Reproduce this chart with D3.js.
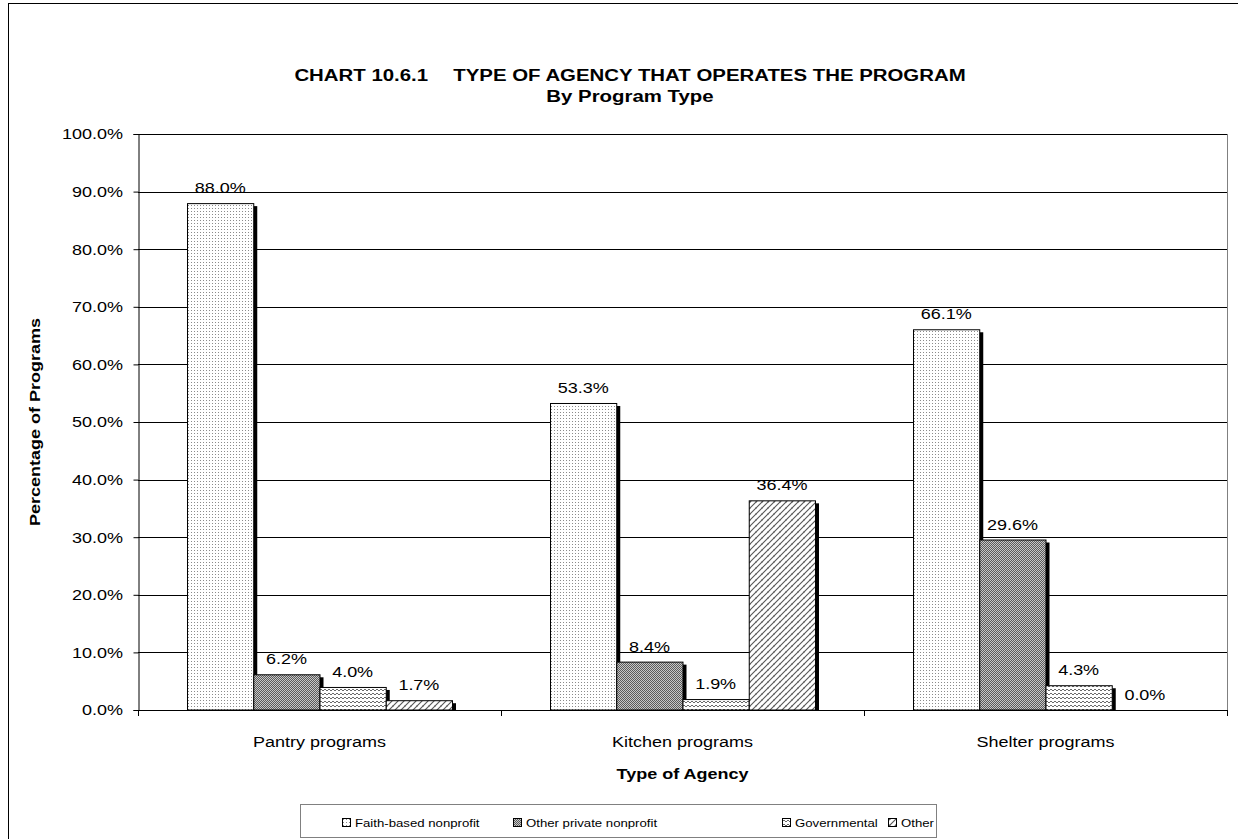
<!DOCTYPE html>
<html>
<head>
<meta charset="utf-8">
<script src="https://cdn.jsdelivr.net/npm/d3@7"></script>
<style>
  html, body { margin: 0; padding: 0; background: #fff; }
  svg { display: block; font-family: "Liberation Sans", Arial, sans-serif; }
</style>
</head>
<body>
<svg id="chart" width="1238" height="839"></svg>
<script>
// Program types along the x axis
const categories = ["Pantry programs", "Kitchen programs", "Shelter programs"];
// Agency types (one bar each per program type)
const seriesNames = ["Faith-based nonprofit", "Other private nonprofit", "Governmental", "Other"];
// Share of programs (percent) by agency type
const faithBased   = [88.0, 53.3, 66.1];
const otherPrivate = [6.2, 8.4, 29.6];
const governmental = [4.0, 1.9, 4.3];
const otherAgency  = [1.7, 36.4, 0.0];
// Y axis ticks (percent)
const yTicks = [0, 10, 20, 30, 40, 50, 60, 70, 80, 90, 100];

const seriesValues = [faithBased, otherPrivate, governmental, otherAgency];
const patternIds = ["pat-faith", "pat-private", "pat-gov", "pat-other"];

const W = 1238, H = 839;
const plot = { left: 138, right: 1227, top: 134, bottom: 710 };
const SX = 1.2; // horizontal stretch of the lettering

const svg = d3.select("#chart");
svg.append("rect").attr("width", W).attr("height", H).attr("fill", "#fff");

// text helper: positioned via transform so the glyphs can be widened
function label(parent, x, y, str, size, opts = {}) {
  const rot = opts.rotate ? ` rotate(${opts.rotate})` : "";
  return parent.append("text")
    .attr("transform", `translate(${x},${y})${rot} scale(${SX},1)`)
    .attr("text-anchor", opts.anchor || "middle")
    .attr("font-size", size)
    .attr("font-weight", opts.bold ? "bold" : "normal")
    .attr("fill", "#000")
    .text(str);
}

// ---- fill patterns ----
const defs = svg.append("defs");

// fine dots
const p1 = defs.append("pattern").attr("id", "pat-faith").attr("patternUnits", "userSpaceOnUse")
  .attr("width", 3).attr("height", 3);
p1.append("rect").attr("width", 3).attr("height", 3).attr("fill", "#fff");
p1.append("rect").attr("x", 1).attr("y", 1).attr("width", 1).attr("height", 1).attr("fill", "#8a8a8a");

// dense checker
const p2 = defs.append("pattern").attr("id", "pat-private").attr("patternUnits", "userSpaceOnUse")
  .attr("width", 2).attr("height", 2);
p2.append("rect").attr("width", 2).attr("height", 2).attr("fill", "#c8c8c8");
p2.append("rect").attr("x", 0).attr("y", 0).attr("width", 1).attr("height", 1).attr("fill", "#5a5a5a");
p2.append("rect").attr("x", 1).attr("y", 1).attr("width", 1).attr("height", 1).attr("fill", "#5a5a5a");

// small zig-zag waves
const p3 = defs.append("pattern").attr("id", "pat-gov").attr("patternUnits", "userSpaceOnUse")
  .attr("width", 4).attr("height", 4);
p3.append("rect").attr("width", 4).attr("height", 4).attr("fill", "#fff");
p3.append("path").attr("d", "M0,3 L2,1 L4,3").attr("fill", "none").attr("stroke", "#6a6a6a").attr("stroke-width", 1);

// diagonal hatching
const p4 = defs.append("pattern").attr("id", "pat-other").attr("patternUnits", "userSpaceOnUse")
  .attr("width", 6).attr("height", 6);
p4.append("rect").attr("width", 6).attr("height", 6).attr("fill", "#fff");
p4.append("path").attr("d", "M-1,7 L7,-1 M-1,1 L1,-1 M5,7 L7,5").attr("stroke", "#555").attr("stroke-width", 1.1);
p4.append("path").attr("d", "M1,3 L3,5").attr("stroke", "#999").attr("stroke-width", 0.8);

// ---- outer frame ----
svg.append("rect").attr("x", 8.5).attr("y", 3.5).attr("width", 1300).attr("height", 1000)
  .attr("fill", "none").attr("stroke", "#000").attr("stroke-width", 1);

// ---- scales ----
const x0 = d3.scaleBand().domain(categories).range([plot.left, plot.right])
  .paddingInner(0.27).paddingOuter(0.135);
const x1 = d3.scaleBand().domain(seriesNames).range([0, x0.bandwidth()]);
const y = d3.scaleLinear().domain([0, 100]).range([plot.bottom, plot.top]);

// ---- gridlines ----
svg.append("g").selectAll("line").data(yTicks.filter(t => t > 0)).join("line")
  .attr("x1", plot.left).attr("x2", plot.right)
  .attr("y1", d => Math.round(y(d)) + 0.5).attr("y2", d => Math.round(y(d)) + 0.5)
  .attr("stroke", "#000").attr("stroke-width", 1);

// right edge of plot area
svg.append("line").attr("x1", plot.right + 0.5).attr("x2", plot.right + 0.5)
  .attr("y1", plot.top).attr("y2", plot.bottom).attr("stroke", "#808080");

// ---- bars ----
const groups = svg.append("g").selectAll("g").data(categories).join("g")
  .attr("transform", c => `translate(${x0(c)},0)`);

groups.each(function (c, ci) {
  const g = d3.select(this);
  seriesNames.forEach((s, si) => {
    const v = seriesValues[si][ci];
    const bx = x1(s), bw = x1.bandwidth();
    const top = y(v), h = y(0) - y(v);
    if (h > 3) {
      g.append("rect").attr("x", bx + 1).attr("y", top + 3)
        .attr("width", bw + 3).attr("height", h - 3).attr("fill", "#000");
    }
    if (h > 0) {
      g.append("rect").attr("x", bx + 0.5).attr("y", top + 0.5)
        .attr("width", bw).attr("height", Math.max(0, h - 0.5))
        .attr("fill", `url(#${patternIds[si]})`).attr("stroke", "#000").attr("stroke-width", 1);
    }
    label(g, bx + bw / 2, top - 10, d3.format(".1f")(v) + "%", 15);
  });
});

// ---- axes ----
const yAxis = d3.axisLeft(y).tickValues(yTicks).tickSize(5).tickPadding(8)
  .tickFormat(d => d3.format(".1f")(d) + "%");
const gy = svg.append("g").attr("transform", `translate(${plot.left + 0.5},0)`).call(yAxis);
gy.select(".domain").attr("stroke", "#000");
gy.selectAll(".tick line").attr("stroke", "#000");
gy.selectAll("text").attr("font-size", 15).attr("font-family", "Liberation Sans, Arial, sans-serif")
  .attr("fill", "#000").attr("transform", `scale(${SX},1)`);

svg.append("line").attr("x1", plot.left).attr("x2", plot.right + 1)
  .attr("y1", plot.bottom + 0.5).attr("y2", plot.bottom + 0.5).attr("stroke", "#000");
// category separators below the axis
const sepX = [plot.left, plot.left + x0.step(), plot.left + 2 * x0.step(), plot.right];
svg.append("g").selectAll("line").data(sepX).join("line")
  .attr("x1", d => Math.round(d) + 0.5).attr("x2", d => Math.round(d) + 0.5)
  .attr("y1", plot.bottom).attr("y2", plot.bottom + 6).attr("stroke", "#000");

// category labels
const gx = svg.append("g");
categories.forEach(c => label(gx, x0(c) + x0.bandwidth() / 2, 747, c, 15));

// ---- titles ----
const titleX = 630;
const title = svg.append("text")
  .attr("transform", `translate(${titleX},81) scale(${SX},1)`)
  .attr("text-anchor", "middle").attr("font-size", 17).attr("font-weight", "bold").attr("fill", "#000");
title.append("tspan").text("CHART 10.6.1");
title.append("tspan").attr("dx", 21).text("TYPE OF AGENCY THAT OPERATES THE PROGRAM");
label(svg, titleX, 102, "By Program Type", 17, { bold: true });

label(svg, (plot.left + plot.right) / 2, 779, "Type of Agency", 15, { bold: true });
label(svg, 40, (plot.top + plot.bottom) / 2, "Percentage of Programs", 15, { bold: true, rotate: -90 });

// ---- legend ----
const legend = svg.append("g");
legend.append("rect").attr("x", 300.5).attr("y", 804.5).attr("width", 636).attr("height", 33)
  .attr("fill", "#fff").attr("stroke", "#808080");
const legendX = [342, 513, 782, 888];
seriesNames.forEach((s, i) => {
  const li = legend.append("g").attr("transform", `translate(${legendX[i]},827)`);
  li.append("rect").attr("x", 0.5).attr("y", -8.5).attr("width", 8).attr("height", 8)
    .attr("fill", `url(#${patternIds[i]})`).attr("stroke", "#000");
  label(li, 13, 0, s, 11, { anchor: "start" });
});
</script>
</body>
</html>
